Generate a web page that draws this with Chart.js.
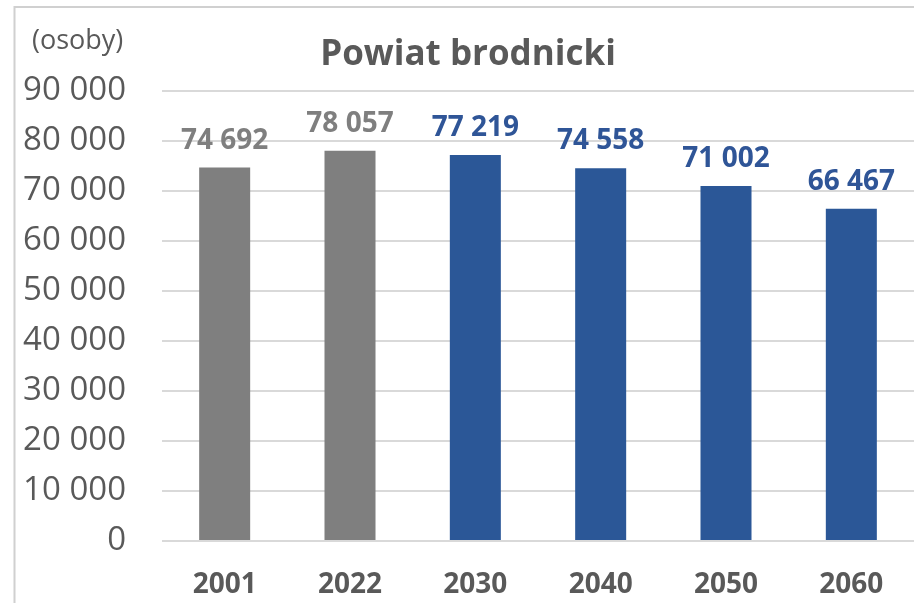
<!DOCTYPE html>
<html>
<head>
<meta charset="utf-8">
<script src="https://cdn.jsdelivr.net/npm/chart.js@4/dist/chart.umd.min.js"></script>
<style>
  html, body { margin: 0; padding: 0; background: #ffffff; }
  #wrap { width: 914px; height: 603px; position: relative; }
</style>
</head>
<body>
<div id="wrap"><canvas id="c" width="914" height="603"></canvas></div>
<script>
// ---- data ----
const chartTitle = 'Powiat brodnicki';
const unitLabel = '(osoby)';
const years = ['2001', '2022', '2030', '2040', '2050', '2060'];
const population = [74692, 78057, 77219, 74558, 71002, 66467];
const isProjection = [false, false, true, true, true, true];
const yTickValues = [0, 10000, 20000, 30000, 40000, 50000, 60000, 70000, 80000, 90000];

// ---- styles ----
const GRAY_BAR = '#7f7f7f';
const BLUE_BAR = '#2b5797';
const GRAY_TEXT = '#595959';
const GRAY_LABEL = '#7f7f7f';
const BLUE_TEXT = '#2f5597';
const GRID = '#d9d9d9';
const FONT = '"Open Sans", "Noto Sans", sans-serif';

function fmt(v) {
  return String(v).replace(/\B(?=(\d{3})+(?!\d))/g, ' ');
}

const decorPlugin = {
  id: 'decor',
  beforeDraw(chart) {
    const ctx = chart.ctx;
    ctx.save();
    ctx.strokeStyle = '#d0d0d0';
    ctx.lineWidth = 2;
    ctx.beginPath();
    ctx.moveTo(14.5, 603);
    ctx.lineTo(14.5, 7);
    ctx.lineTo(914, 7);
    ctx.stroke();
    ctx.restore();
  },
  afterDraw(chart) {
    const ctx = chart.ctx;
    ctx.save();
    ctx.fillStyle = GRAY_TEXT;
    ctx.textBaseline = 'middle';
    ctx.textAlign = 'center';
    ctx.font = 'bold 35px ' + FONT;
    ctx.fillText(chartTitle, 468, 55);
    ctx.textAlign = 'left';
    ctx.font = '27px ' + FONT;
    ctx.fillText(unitLabel, 32, 41);
    ctx.restore();
  }
};

const labelPlugin = {
  id: 'barLabels',
  afterDatasetsDraw(chart) {
    const ctx = chart.ctx;
    const meta = chart.getDatasetMeta(0);
    ctx.save();
    ctx.font = 'bold 28px ' + FONT;
    ctx.textAlign = 'center';
    ctx.textBaseline = 'alphabetic';
    meta.data.forEach((bar, i) => {
      ctx.fillStyle = isProjection[i] ? BLUE_TEXT : GRAY_LABEL;
      ctx.fillText(fmt(population[i]), bar.x, bar.y - 19);
    });
    ctx.restore();
  }
};

new Chart(document.getElementById('c'), {
  type: 'bar',
  data: {
    labels: years,
    datasets: [{
      data: population,
      backgroundColor: isProjection.map(p => p ? BLUE_BAR : GRAY_BAR),
      borderWidth: 0,
      categoryPercentage: 1.0,
      barPercentage: 0.407
    }]
  },
  options: {
    responsive: false,
    animation: false,
    events: [],
    layout: { padding: { left: 14, top: 91, right: 0, bottom: 0 } },
    plugins: {
      legend: { display: false },
      tooltip: { enabled: false },
      title: { display: false }
    },
    scales: {
      x: {
        grid: { display: false, drawTicks: false },
        border: { display: false },
        ticks: {
          color: GRAY_TEXT,
          font: { family: FONT, size: 28, weight: 'bold' },
          padding: 27,
          maxRotation: 0
        },
        afterFit(scale) { scale.height = 62; }
      },
      y: {
        min: 0,
        max: 90000,
        grid: { color: GRID, lineWidth: 2, drawTicks: false },
        border: { display: false },
        afterBuildTicks(scale) { scale.ticks = yTickValues.map(v => ({ value: v })); },
        ticks: {
          color: GRAY_TEXT,
          font: { family: FONT, size: 33 },
          padding: 36,
          callback: (v) => fmt(v)
        },
        afterFit(scale) { scale.width = 148; }
      }
    }
  },
  plugins: [decorPlugin, labelPlugin]
});
</script>
</body>
</html>
